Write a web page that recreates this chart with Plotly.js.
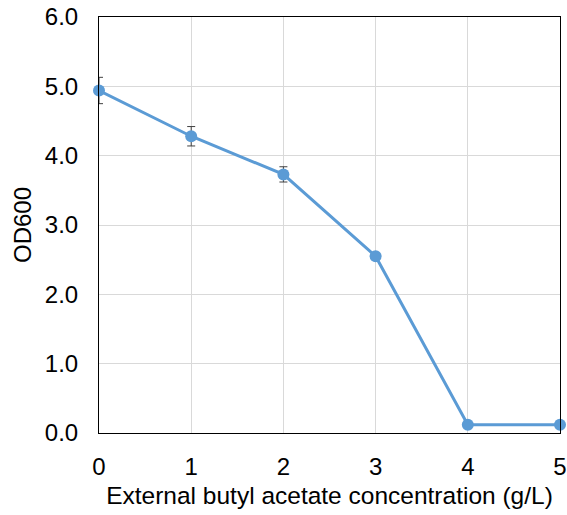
<!DOCTYPE html>
<html>
<head>
<meta charset="utf-8">
<script src="https://cdn.plot.ly/plotly-3.0.1.min.js"></script>
<style>html,body{margin:0;padding:0;background:#fff;}#chart{width:567px;height:515px;}</style>
</head>
<body>
<div id="chart"></div>
<script>
const concentration = [0, 1, 2, 3, 4, 5];
const od600 = [4.94, 4.28, 3.73, 2.55, 0.12, 0.12];
const od600Err = [0.19, 0.14, 0.11, 0.03, 0.01, 0.01];
const xTickVals = [0, 1, 2, 3, 4, 5];
const yTickVals = [0, 1, 2, 3, 4, 5, 6];
const yTickText = ["0.0", "1.0", "2.0", "3.0", "4.0", "5.0", "6.0"];

const trace = {
  x: concentration,
  y: od600,
  type: 'scatter',
  mode: 'lines+markers',
  line: {color: '#5B9BD5', width: 3},
  marker: {color: '#5B9BD5', size: 12},
  error_y: {type: 'data', array: od600Err, visible: true, color: '#404040', thickness: 1, width: 4},
  cliponaxis: false
};

const layout = {
  width: 567, height: 515,
  margin: {l: 99, r: 7, t: 17, b: 82},
  paper_bgcolor: '#fff', plot_bgcolor: '#fff',
  font: {family: 'Liberation Sans, Arial, sans-serif', size: 24, color: '#000'},
  showlegend: false,
  xaxis: {
    range: [0, 5], tickvals: xTickVals, ticks: '', showgrid: true, gridcolor: '#d9d9d9', gridwidth: 1,
    showline: true, linecolor: '#000', linewidth: 1, mirror: true, zeroline: false,
    ticklabelstandoff: 12, tickfont: {size: 24},
    title: {text: 'External butyl acetate concentration (g/L)', font: {size: 24.5}, standoff: 8}
  },
  yaxis: {
    range: [0, 6], tickvals: yTickVals, ticktext: yTickText, ticks: '', showgrid: true, gridcolor: '#d9d9d9',
    showline: true, linecolor: '#000', linewidth: 1, mirror: true, zeroline: false,
    ticklabelstandoff: 15, tickfont: {size: 24},
    title: {text: 'OD600', font: {size: 24}, standoff: 6}
  }
};

Plotly.newPlot('chart', [trace], layout, {displayModeBar: false, staticPlot: true});
</script>
</body>
</html>
